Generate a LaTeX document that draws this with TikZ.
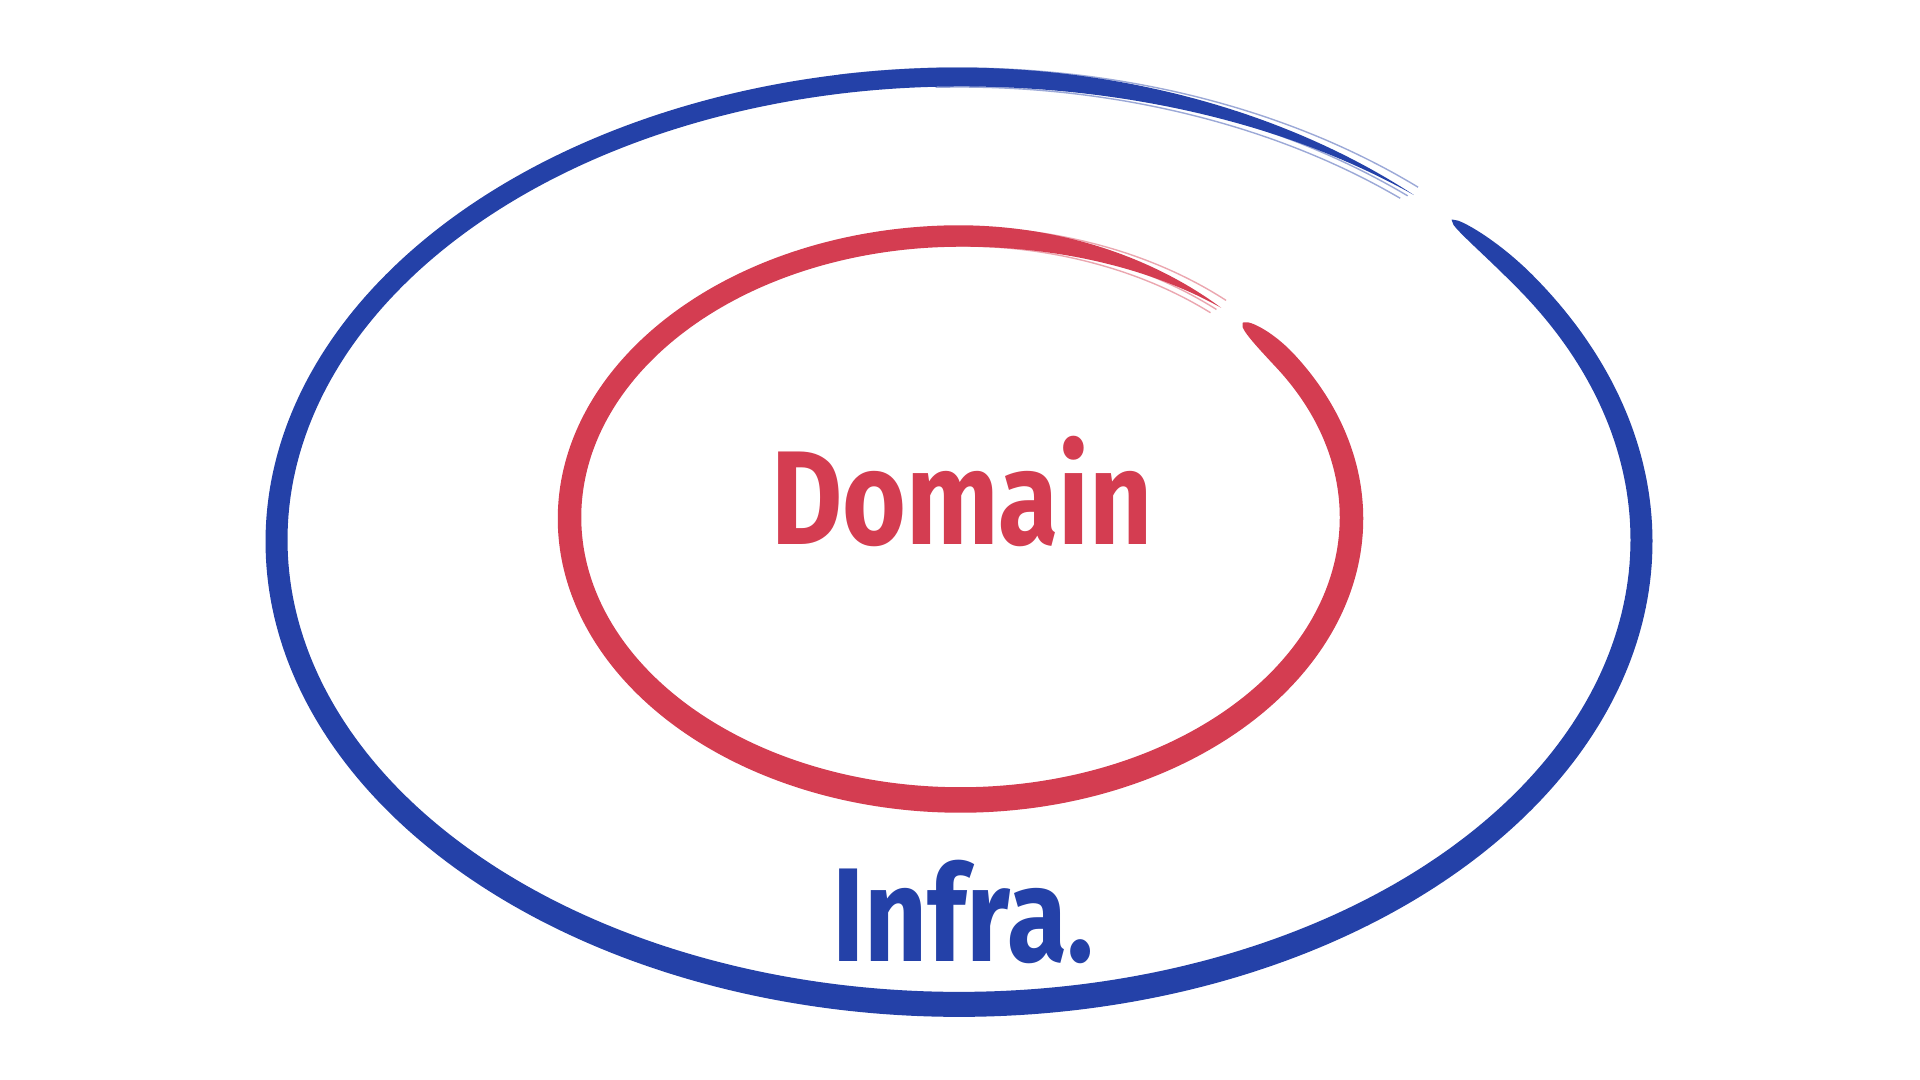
\documentclass[tikz,border=0pt]{standalone}
\usepackage{fontspec}
\setmainfont{Fira Sans}
\definecolor{infrablue}{HTML}{2441A8}
\definecolor{domred}{HTML}{D43D51}
\begin{document}
\begin{tikzpicture}[
  declare function={
    ft(\u)=sin(90*max(0,min(1,(\u-48.2)/44)));
    fx(\u)=max(0,min(1,(403.8-\u)/10));
    fb(\u)=sqrt(max(0,1-(1-fx(\u))*(1-fx(\u))));
    wo(\u)=(0.22-0.03*sin(\u))*ft(\u)*fb(\u);
    wi(\u)=(0.235-0.02*sin(\u))*ft(\u)*fb(\u);
  },
  label/.style={inner sep=0pt, anchor=base, font=\bfseries\fontsize{38}{38}\selectfont},
  sketch/.style={line width=0.4pt, opacity=0.45}
]
\useasboundingbox (0,0) rectangle (19.2,10.8);
\fill[white] (0,0) rectangle (19.2,10.8);

% outer (blue) brush ellipse
\def\cx{9.59}\def\cy{5.393}\def\rx{6.825}\def\ry{4.637}
\fill[infrablue]
  plot[domain=48.2:403.8, samples=700]
    ({\cx+(\rx+wo(\x)/2)*cos(\x)},{\cy+(\ry+wo(\x)/2)*sin(\x)})
  -- plot[domain=403.8:48.2, samples=700]
    ({\cx+(\rx-wo(\x)/2)*cos(\x)},{\cy+(\ry-wo(\x)/2)*sin(\x)})
  -- cycle;
\draw[infrablue, sketch] plot[domain=48.4:100, samples=60, smooth]
  ({\cx+(\rx+0.09)*cos(\x)},{\cy+(\ry+0.09)*sin(\x)});
\draw[infrablue, sketch] plot[domain=49:92, samples=60, smooth]
  ({\cx+(\rx-0.10)*cos(\x)},{\cy+(\ry-0.10)*sin(\x)});
\draw[infrablue, sketch] plot[domain=48.6:80, samples=60, smooth]
  ({\cx+(\rx-0.04)*cos(\x)},{\cy+(\ry-0.04)*sin(\x)});

% inner (red) brush ellipse
\def\icx{9.605}\def\icy{5.62}\def\irx{3.91}\def\iry{2.82}
\fill[domred]
  plot[domain=48.2:403.8, samples=700]
    ({\icx+(\irx+wi(\x)/2)*cos(\x)},{\icy+(\iry+wi(\x)/2)*sin(\x)})
  -- plot[domain=403.8:48.2, samples=700]
    ({\icx+(\irx-wi(\x)/2)*cos(\x)},{\icy+(\iry-wi(\x)/2)*sin(\x)})
  -- cycle;
\draw[domred, sketch] plot[domain=48.4:100, samples=60, smooth]
  ({\icx+(\irx+0.09)*cos(\x)},{\icy+(\iry+0.09)*sin(\x)});
\draw[domred, sketch] plot[domain=49:92, samples=60, smooth]
  ({\icx+(\irx-0.10)*cos(\x)},{\icy+(\iry-0.10)*sin(\x)});
\draw[domred, sketch] plot[domain=48.6:80, samples=60, smooth]
  ({\icx+(\irx-0.04)*cos(\x)},{\icy+(\iry-0.04)*sin(\x)});

% labels
\node[label, text=domred] (domain) at (9.62,5.35) {\scalebox{0.82}[1]{Domain}};
\node[label, text=infrablue] (infra) at (9.63,1.18) {\scalebox{0.82}[1]{Infra.}};
\end{tikzpicture}
\end{document}
